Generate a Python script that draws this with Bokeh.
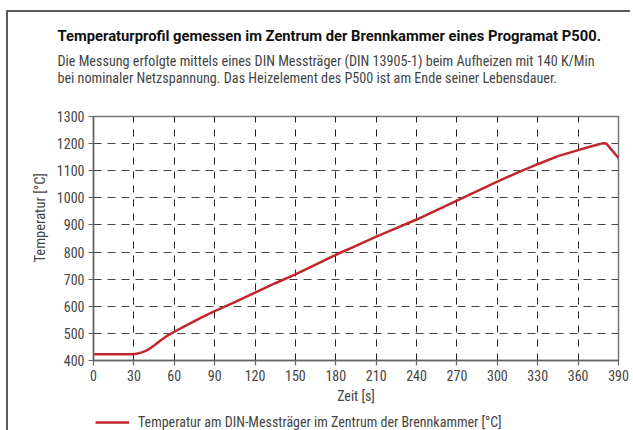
from bokeh.plotting import figure
from bokeh.layouts import column
from bokeh.models import FixedTicker, Legend, LegendItem, Range1d, Title
from bokeh.embed import file_html
from bokeh.resources import INLINE

# ---- data ----
time_s = [0, 10, 20, 28, 32, 36, 40, 45, 50, 55, 60, 70, 80, 90, 105, 120, 135, 150,
          165, 180, 195, 210, 225, 240, 255, 270, 285, 300, 315, 330, 345, 360, 370,
          378, 381, 390]
temp_c = [423, 423, 423, 423, 425, 430, 438, 455, 475, 492, 506, 532, 558, 582, 615,
          650, 685, 718, 754, 790, 823, 857, 888, 920, 955, 990, 1025, 1060, 1093,
          1124, 1154, 1176, 1190, 1201, 1200, 1147]
x_ticks = list(range(0, 391, 30))
y_ticks = list(range(400, 1301, 100))

title_text = "Temperaturprofil gemessen im Zentrum der Brennkammer eines Programat P500."
sub1 = "Die Messung erfolgte mittels eines DIN Messträger (DIN 13905-1) beim Aufheizen mit 140 K/Min"
sub2 = "bei nominaler Netzspannung. Das Heizelement des P500 ist am Ende seiner Lebensdauer."
legend_text = "Temperatur am DIN-Messträger im Zentrum der Brennkammer [°C]"
x_label = "Zeit [s]"
y_label = "Temperatur [°C]"

FONT = "Roboto Condensed"
TXT = "#444444"
RED = "#c0272d"
W, H = 622, 398

p = figure(width=W, height=H, output_backend="svg", toolbar_location=None,
           x_range=Range1d(0, 390), y_range=Range1d(400, 1300),
           min_border_left=85, min_border_right=12, min_border_top=104,
           min_border_bottom=50)
p.title.visible = False
p.outline_line_color = "#777777"
p.outline_line_width = 1.5

for ax in (p.xaxis, p.yaxis):
    ax.axis_line_color = "#666666"
    ax.axis_line_width = 1.5
    ax.major_tick_line_color = "#666666"
    ax.major_tick_line_width = 1.2
    ax.major_tick_in = 0
    ax.major_tick_out = 5
    ax.minor_tick_line_color = None
    ax.major_label_text_font = FONT
    ax.major_label_text_font_size = "14px"
    ax.major_label_text_color = TXT
    ax.axis_label_text_font = FONT
    ax.axis_label_text_font_size = "14px"
    ax.axis_label_text_font_style = "normal"
    ax.axis_label_text_color = TXT

p.xaxis.ticker = FixedTicker(ticks=x_ticks)
p.yaxis.ticker = FixedTicker(ticks=y_ticks)
p.xaxis.axis_label = x_label
p.xaxis.major_label_standoff = 4
p.yaxis.major_label_standoff = 4
p.xaxis.axis_label_standoff = 4

p.xgrid.ticker = FixedTicker(ticks=x_ticks)
p.ygrid.ticker = FixedTicker(ticks=y_ticks)
p.xgrid.grid_line_color = "#222222"
p.xgrid.grid_line_dash = "7 7"
p.ygrid.grid_line_color = "#444444"
p.ygrid.grid_line_dash = "8 6"
for g in (p.xgrid, p.ygrid):
    g.grid_line_width = 1

r = p.line(time_s, temp_c, line_color=RED, line_width=2.5)

# y axis label as a side title, placed higher than centre like the reference
p.add_layout(Title(text=y_label, align="left", offset=98, standoff=9,
                   text_font=FONT, text_font_size="14.5px", text_font_style="normal",
                   text_color=TXT), "left")

# subtitle (closest to the frame, with two blank spacer lines) and bold title above it
p.add_layout(Title(text=sub1 + "\n" + sub2 + "\n\u00a0\n\u00a0", align="left", offset=-36,
                   standoff=-6, text_font=FONT, text_font_size="14.15px",
                   text_font_style="normal", text_color=TXT, text_line_height=1.05), "above")
p.add_layout(Title(text=title_text, align="left", offset=-36, standoff=19,
                   text_font="Roboto", text_font_size="14.75px", text_font_style="bold",
                   text_color="#111111"), "above")

# legend strip below the chart
lfig = figure(width=W, height=20, output_backend="svg", toolbar_location=None,
              x_range=Range1d(10000, 10001), y_range=Range1d(0, 1),
              x_axis_type=None, y_axis_type=None,
              min_border_left=0, min_border_right=0, min_border_top=0,
              min_border_bottom=0)
lfig.outline_line_color = None
lfig.grid.visible = False
lfig.title.visible = False
lr = lfig.line(time_s, temp_c, line_color=RED, line_width=2.5)
legend = Legend(items=[LegendItem(label=legend_text, renderers=[lr])],
                location=(2, 0), orientation="horizontal",
                glyph_width=34, glyph_height=16, label_height=16, label_standoff=9,
                padding=2, margin=0, spacing=0,
                border_line_color=None, background_fill_alpha=0,
                label_text_font=FONT, label_text_font_size="14px",
                label_text_color=TXT)
lfig.add_layout(legend, "center")

layout = column(p, lfig, spacing=0,
                styles={"border-left": "2px solid #5a5a5a", "border-top": "2px solid #5a5a5a",
                        "margin-left": "6px", "margin-top": "10px"})

open("out.html", "w").write(file_html(layout, INLINE))
